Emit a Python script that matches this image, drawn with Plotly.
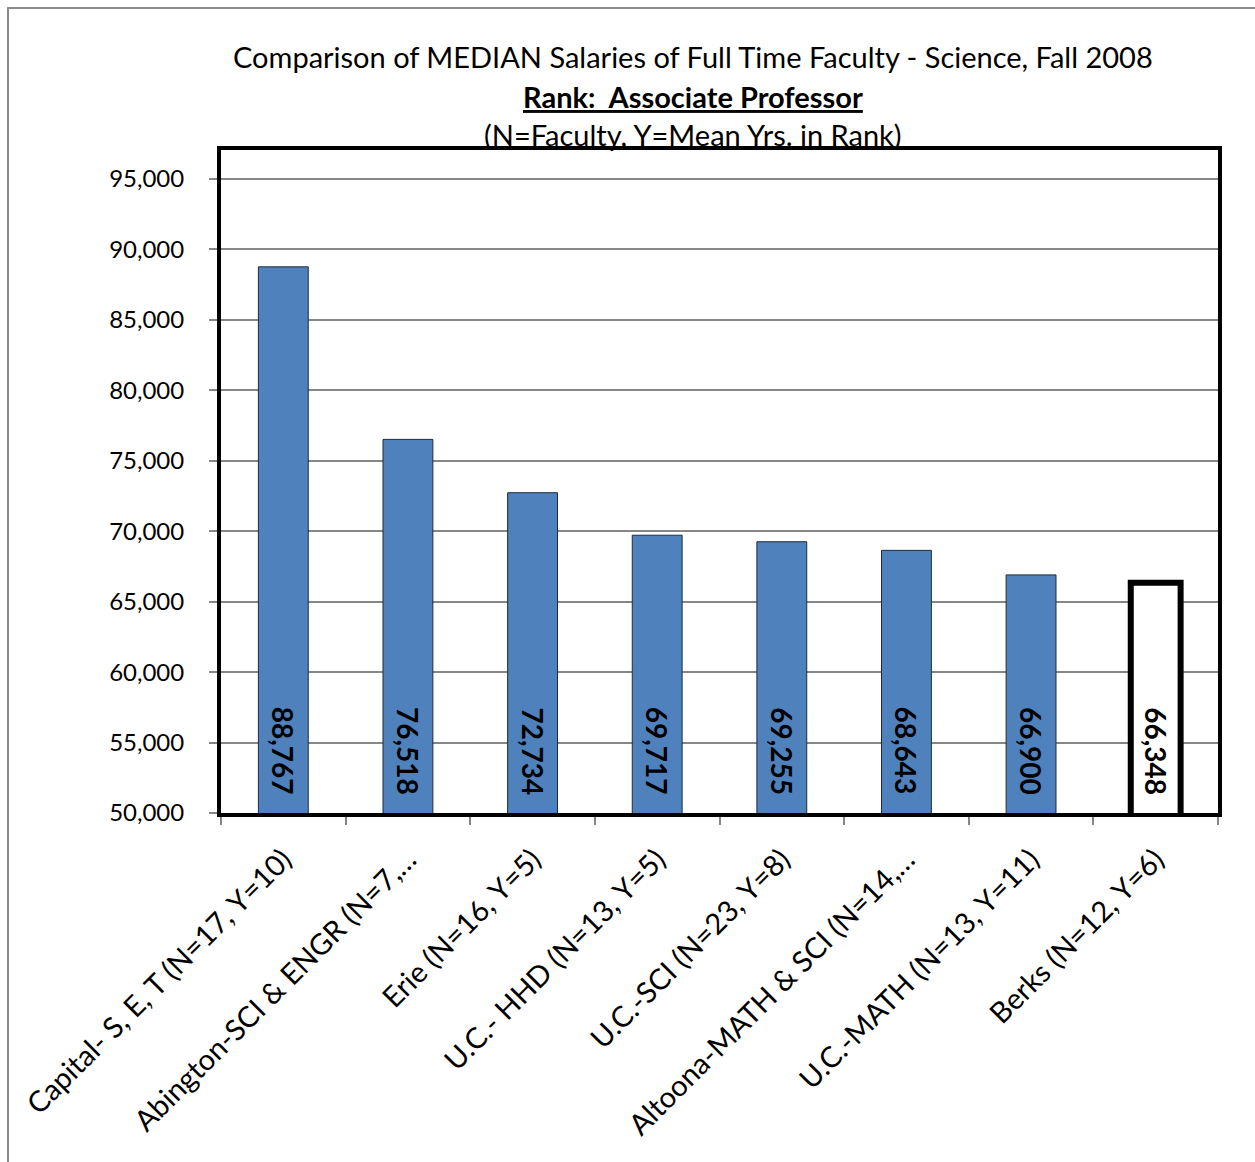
import plotly.graph_objects as go

# Median salaries, associate professors in science, Fall 2008
categories = [
    "Capital- S, E, T (N=17, Y=10)",
    "Abington-SCI & ENGR (N=7,…",
    "Erie (N=16, Y=5)",
    "U.C.- HHD (N=13, Y=5)",
    "U.C.-SCI (N=23, Y=8)",
    "Altoona-MATH & SCI (N=14,…",
    "U.C.-MATH (N=13, Y=11)",
    "Berks (N=12, Y=6)",
]
salaries = [88767, 76518, 72734, 69717, 69255, 68643, 66900, 66348]
highlight = "Berks (N=12, Y=6)"

y_ticks = [50000, 55000, 60000, 65000, 70000, 75000, 80000, 85000, 90000, 95000]

FONT = "Lato, Carlito, Calibri, sans-serif"
W, H = 1255, 1162
L, R, T, B = 221, 37, 150, 349
PW, PH = W - L - R, H - T - B


def px_x(p):
    return (p - L) / PW


def px_y(p):
    return (H - B - p) / PH


fills = ["#FFFFFF" if c == highlight else "#4F81BD" for c in categories]
edges = ["#000000" if c == highlight else "#1F2A3A" for c in categories]
widths = [6 if c == highlight else 1 for c in categories]

fig = go.Figure(
    go.Bar(
        x=categories,
        y=salaries,
        marker=dict(color=fills, line=dict(color=edges, width=widths)),
        width=0.4,
        hoverinfo="skip",
    )
)

# rotated value labels sitting near the base of each bar
for c, v in zip(categories, salaries):
    fig.add_annotation(
        x=c, y=50000, xref="x", yref="y",
        text=f"<b>{v:,}</b>", textangle=90, showarrow=False,
        yanchor="bottom", xanchor="center", yshift=16,
        font=dict(family=FONT, size=28, color="#000000"),
    )

# three-line title
title_lines = [
    ("Comparison of MEDIAN Salaries of Full Time Faculty - Science, Fall 2008", 56),
    ("<b><u>Rank:  Associate Professor</u></b>", 96),
    ("(N=Faculty, Y=Mean Yrs. in Rank)", 134),
]
for txt, yp in title_lines:
    fig.add_annotation(
        x=px_x(693), y=px_y(yp), xref="paper", yref="paper",
        text=txt, showarrow=False, xanchor="center", yanchor="middle",
        font=dict(family=FONT, size=29, color="#000000"),
    )

# outer chart frame
fig.add_shape(
    type="rect", xref="paper", yref="paper",
    x0=px_x(8), x1=px_x(1320), y0=px_y(1220), y1=px_y(8),
    line=dict(color="#8C8C8C", width=2), fillcolor="rgba(0,0,0,0)", layer="below",
)

fig.update_layout(
    width=W, height=H,
    margin=dict(l=L, r=R, t=T, b=B, pad=0),
    paper_bgcolor="#FFFFFF", plot_bgcolor="#FFFFFF",
    showlegend=False,
    bargap=0.6,
    font=dict(family=FONT, color="#000000"),
    xaxis=dict(
        type="category",
        tickangle=-45,
        tickfont=dict(family=FONT, size=29, color="#000000"),
        ticks="outside", tickson="boundaries", ticklen=8, tickcolor="#868686", tickwidth=2,
        ticklabelstandoff=14,
        showline=True, linecolor="#000000", linewidth=4, mirror=True,
        showgrid=False,
    ),
    yaxis=dict(
        range=[50000, 97060],
        tickvals=y_ticks,
        ticktext=[f"{v:,}" for v in y_ticks],
        tickfont=dict(family=FONT, size=24, color="#000000"),
        ticks="outside", ticklen=8, tickcolor="#868686", tickwidth=2,
        ticklabelstandoff=20,
        showline=True, linecolor="#000000", linewidth=4, mirror=True,
        showgrid=True, gridcolor="#868686", gridwidth=2,
        zeroline=False,
    ),
)

fig.write_html("out.html")
